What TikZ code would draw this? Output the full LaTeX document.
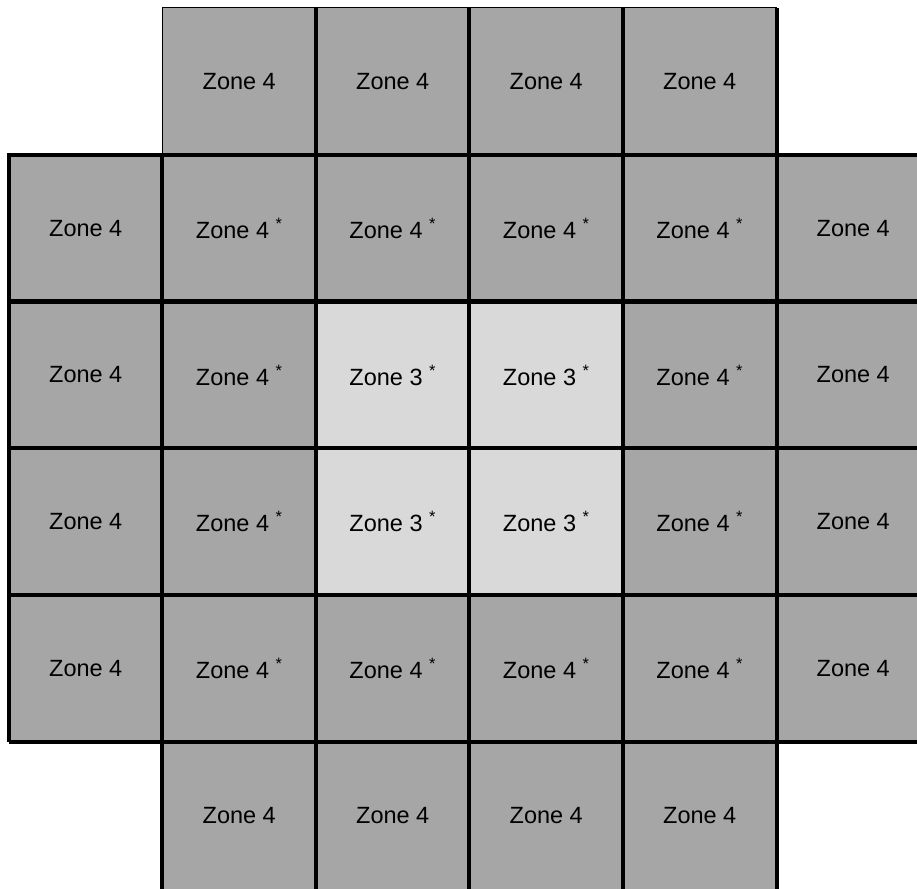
\documentclass[tikz,border=0pt]{standalone}
\usepackage{fontspec}
\setmainfont{Liberation Sans}
\usetikzlibrary{positioning}
\definecolor{zonegrey}{HTML}{A6A6A6}
\definecolor{zonelight}{HTML}{D9D9D9}
\tikzstyle{cell}=[rectangle, inner sep=0pt, minimum width=153.5pt,% one table cell
minimum height=146.8pt, font=\fontsize{23.5}{28}\selectfont]
\tikzstyle{zfour}=[cell, fill=zonegrey]
\tikzstyle{zthree}=[cell, fill=zonelight]
\tikzstyle{rule}=[line width=4.2pt]
\tikzstyle{hairline}=[line width=1.4pt]
\newcommand{\zstar}{ \textsuperscript{*}}

\begin{document}
\begin{tikzpicture}[x=1pt,y=-1pt]
\useasboundingbox (0,0) rectangle (917,888);
\clip (0,0) rectangle (917,888);
% top and bottom rows
\foreach \c in {1,...,4} {
  \node[zfour] (r0-\c) at ({9+153.5*(\c+0.5)},{8+146.8*0.5}) {Zone 4};
  \node[zfour] (r5-\c) at ({9+153.5*(\c+0.5)},{8+146.8*5.5}) {Zone 4};
}
% middle rows
\foreach \r in {1,...,4} {
  \node[zfour] (r\r-0) at ({9+153.5*0.5},{8+146.8*(\r+0.5)}) {Zone 4};
  \node[zfour] (r\r-5) at ({9+153.5*5.5},{8+146.8*(\r+0.5)}) {Zone 4};
  \foreach \c in {1,4}
    \node[zfour] (r\r-\c) at ({9+153.5*(\c+0.5)},{8+146.8*(\r+0.5)}) {Zone 4\zstar};
}
\foreach \c in {2,3} {
  \node[zfour] (r1-\c) at ({9+153.5*(\c+0.5)},{8+146.8*1.5}) {Zone 4\zstar};
  \node[zthree] (r2-\c) at ({9+153.5*(\c+0.5)},{8+146.8*2.5}) {Zone 3\zstar};
  \node[zthree] (r3-\c) at ({9+153.5*(\c+0.5)},{8+146.8*3.5}) {Zone 3\zstar};
  \node[zfour] (r4-\c) at ({9+153.5*(\c+0.5)},{8+146.8*4.5}) {Zone 4\zstar};
}
% grid lines
\draw[hairline] (r0-1.south west) -- (r0-1.north west) -- (r0-4.north east);
\draw[rule] (r4-0.south west) -- (r1-0.north west) -- (r1-5.north east);
\foreach \r in {2,3,4}
  \draw[rule] (r\r-0.north west) -- (r\r-5.north east);
\draw[rule] (r4-0.south west) -- (r4-5.south east);
\draw[rule] (r1-1.north west) -- (r5-1.south west);
\foreach \c in {2,3,4}
  \draw[rule] (r0-\c.north west) -- (r5-\c.south west);
\draw[rule] (r0-4.north east) -- (r5-4.south east);
\end{tikzpicture}
\end{document}
